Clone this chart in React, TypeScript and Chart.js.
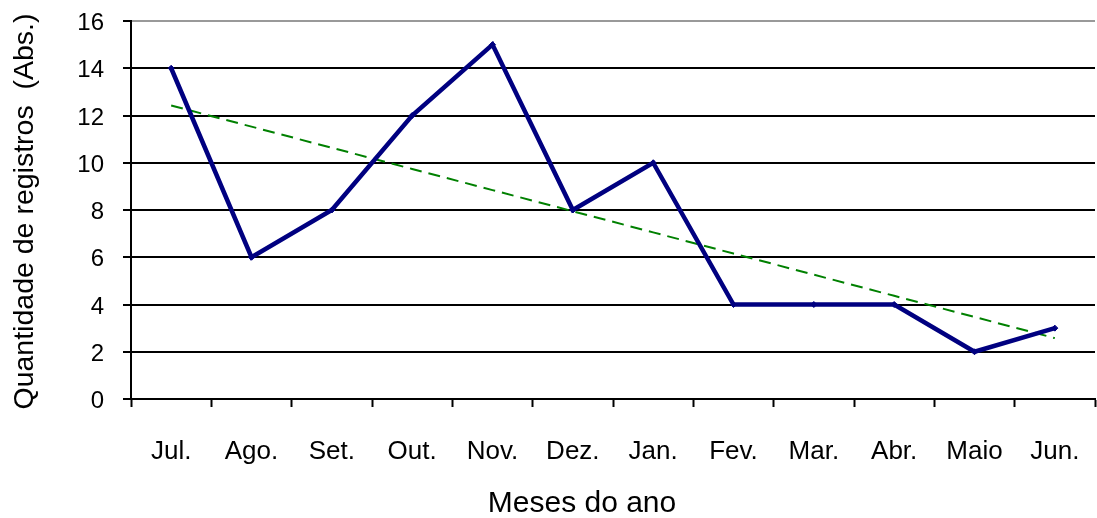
import React, { useEffect, useRef } from "react";
import { Chart, registerables } from "chart.js";

Chart.register(...registerables);

const months = ["Jul.", "Ago.", "Set.", "Out.", "Nov.", "Dez.", "Jan.", "Fev.", "Mar.", "Abr.", "Maio", "Jun."];
const registros = [14, 6, 8, 12, 15, 8, 10, 4, 4, 4, 2, 3];
const yMin = 0;
const yMax = 16;
const yStep = 2;
const yTitle = "Quantidade de registros  (Abs.)";
const xTitle = "Meses do ano";

function linearTrend(values: number[]): number[] {
  const n = values.length;
  const mx = (n - 1) / 2;
  const my = values.reduce((a, b) => a + b, 0) / n;
  let sxy = 0;
  let sxx = 0;
  values.forEach((v, i) => {
    sxy += (i - mx) * (v - my);
    sxx += (i - mx) * (i - mx);
  });
  const slope = sxy / sxx;
  return values.map((_, i) => my + slope * (i - mx));
}

const FONT = '"Liberation Sans", Arial, sans-serif';

const axisTitles = {
  id: "axisTitles",
  afterDraw(chart: any) {
    const ctx = chart.ctx;
    const area = chart.chartArea;
    ctx.save();
    ctx.fillStyle = "#000";
    ctx.textAlign = "center";
    ctx.textBaseline = "middle";
    ctx.font = `28.5px ${FONT}`;
    ctx.translate(25, (area.top + area.bottom) / 2 + 1.5);
    ctx.rotate(-Math.PI / 2);
    ctx.fillText(yTitle, 0, 0);
    ctx.restore();
    ctx.save();
    ctx.fillStyle = "#000";
    ctx.textAlign = "center";
    ctx.textBaseline = "middle";
    ctx.font = `30px ${FONT}`;
    ctx.fillText(xTitle, (area.left + area.right) / 2 - 31, 504);
    ctx.restore();
  },
};

const noPad = (s: any) => {
  s.paddingTop = 0;
  s.paddingBottom = 0;
  s.paddingLeft = 0;
  s.paddingRight = 0;
};

export default function App() {
  const ref = useRef<HTMLCanvasElement>(null);
  useEffect(() => {
    document.body.style.margin = "0";
    const trend = linearTrend(registros);
    const chart = new Chart(ref.current!, {
      type: "line",
      data: {
        labels: months,
        datasets: [
          {
            data: trend,
            borderColor: "#008000",
            borderWidth: 2,
            borderDash: [12, 7],
            pointRadius: 0,
            fill: false,
            tension: 0,
            order: 2,
          },
          {
            data: registros,
            borderColor: "#000080",
            backgroundColor: "#000080",
            borderWidth: 4.5,
            pointStyle: "rectRot",
            pointRadius: 3,
            pointBorderWidth: 1,
            fill: false,
            tension: 0,
            order: 1,
          },
        ],
      },
      options: {
        responsive: false,
        animation: false,
        layout: { padding: { top: 21, right: 0, left: 0, bottom: 0 } },
        plugins: { legend: { display: false }, tooltip: { enabled: false } },
        scales: {
          x: {
            type: "category",
            offset: true,
            afterFit: (s: any) => {
              s.height = 119;
              noPad(s);
            },
            grid: {
              offset: true,
              drawOnChartArea: false,
              drawTicks: true,
              tickLength: 8,
              tickColor: "#000",
              tickWidth: 2,
            },
            border: { display: true, color: "#000", width: 2 },
            ticks: {
              color: "#000",
              font: { family: FONT, size: 26 },
              padding: 29,
              maxRotation: 0,
              autoSkip: false,
            },
          },
          y: {
            min: yMin,
            max: yMax,
            afterFit: (s: any) => {
              s.width = 131;
              noPad(s);
            },
            grid: {
              color: (c: any) => (c.tick && c.tick.value === yMax ? "#999999" : "#000"),
              lineWidth: 2,
              drawTicks: true,
              tickLength: 8,
              tickColor: "#000",
              tickWidth: 2,
            },
            border: { display: true, color: "#000", width: 2 },
            ticks: {
              stepSize: yStep,
              color: "#000",
              font: { family: FONT, size: 24 },
              padding: 19,
              labelOffset: 2.5,
            },
          },
        },
      },
      plugins: [axisTitles],
    });
    return () => chart.destroy();
  }, []);
  return (
    <div style={{ width: 1097, height: 518, overflow: "hidden", background: "#fff" }}>
      <canvas ref={ref} width={1100} height={518} />
    </div>
  );
}
